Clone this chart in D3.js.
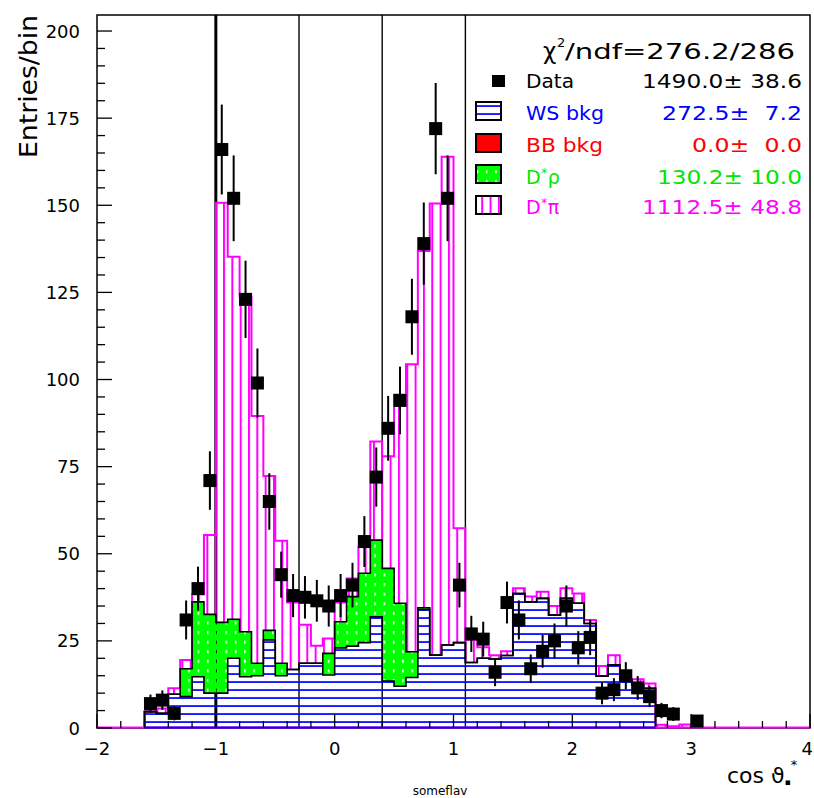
<!DOCTYPE html>
<html><head><meta charset="utf-8">
<script src="https://cdn.jsdelivr.net/npm/d3@7"></script>
<style>
html,body{margin:0;padding:0;background:#fff;}
svg{display:block;}
text{font-family:"DejaVu Sans",sans-serif;}
</style></head><body>
<svg id="c" width="814" height="798"></svg>
<script>
// ---------- DATA ----------
const binEdges = [-1.6,-1.5,-1.4,-1.3,-1.2,-1.1,-1.0,-0.9,-0.8,-0.7,-0.6,-0.5,-0.4,-0.3,-0.2,-0.1,0.0,
  0.1,0.2,0.3,0.4,0.5,0.6,0.7,0.8,0.9,1.0,1.1,1.2,1.3,1.4,1.5,1.6,1.7,1.8,1.9,2.0,2.1,2.2,2.3,2.4,2.5,2.6,2.7,2.8,2.9,3.0];
// WS background (bottom of stack)
const wsBkg = [4.7,4.2,9.7,9.0,14.7,10.0,10.0,20.0,14.7,15.0,25.3,15.0,16.8,18.6,18.6,15.2,23.0,23.5,24.5,31.9,
  13.5,12.0,14.5,34.0,20.9,23.8,24.5,18.8,20.0,19.8,20.8,38.6,36.2,37.2,32.4,37.2,35.8,30.0,14.9,18.1,13.8,12.3,11.4,0,0,0];
// BB background
const bbBkg = [0,0,0,0,0,0,0,0,0,0,0,0,0,0,0,0,0,0,0,0,0,0,0,0,0,0,0,0,0,0,0,0,0,0,0,0,0,0,0,0,0,0,0,0,0,0];
// D*rho component
const dstRho = [0,0,0,8.0,21.5,22.6,20.3,11.2,12.9,3.6,2.7,3.6,0,0,0,6.2,7.5,14.2,19.9,22.0,
  32.3,23.8,7.4,0.5,0,0,0,0,0,0,0,0,0,0,0,0,0,0,0,0,0,0,0,0,0,0];
// D*pi component
const dstPi = [0,1.4,1.7,2.5,2.2,22.8,120.4,104.0,96.2,70.9,44.3,35.1,19.2,11.0,5.0,4.3,5.5,5.2,7.6,28.3,
  32.2,59.8,82.5,102.4,129.6,140.1,32.8,6.5,3.2,1.1,1.2,1.5,1.5,1.9,2.6,2.9,2.8,1.0,2.9,2.8,0.3,1.7,1.4,0.9,0.5,1.0];
// Data points
const dataX = [-1.55,-1.45,-1.35,-1.25,-1.15,-1.05,-0.95,-0.85,-0.75,-0.65,-0.55,-0.45,-0.35,-0.25,-0.15,-0.05,
  0.05,0.15,0.25,0.35,0.45,0.55,0.65,0.75,0.85,0.95,1.05,1.15,1.25,1.35,1.45,1.55,1.65,1.75,1.85,1.95,
  2.05,2.15,2.25,2.35,2.45,2.55,2.65,2.75,2.85,3.05];
const dataY = [7,8,4.2,31,40,71,166,152,123,99,65,44,38,37.5,36.5,35,38,41,53.5,72,86,94,118,139,172,152,
  41,27,25.5,16,36,31,17,22,25,35,23,26,10,11,15,11.5,9,5,4,2];
const dataErr = [2.6,2.8,2.0,5.6,6.3,8.4,12.9,12.3,11.1,9.9,8.1,6.6,6.2,6.1,6.0,5.9,6.2,6.4,7.3,8.5,9.3,9.7,10.9,11.8,13.1,12.3,
  6.4,5.2,5.0,4.0,6.0,5.6,4.1,4.7,5.0,5.9,4.8,5.1,3.2,3.3,3.9,3.4,3.0,2.2,2.0,1.4];
const refLines = [-1.0,-0.3,0.4,1.1];
const xTicks = [-2,-1,0,1,2,3,4];
const yTicks = [0,25,50,75,100,125,150,175,200];
const legendNames = [["Data"],["WS bkg"],["BB bkg"],["D","*","ρ"],["D","*","π"]];
const legendValues = ["1490.0± 38.6","272.5±  7.2","0.0±  0.0","130.2± 10.0","1112.5± 48.8"];
const chi2Text = "/ndf=276.2/286";

// ---------- SCALES ----------
const svg = d3.select("#c");
const x = d3.scaleLinear().domain([-2,4]).range([97,810]);
const y = d3.scaleLinear().domain([0,204.6]).range([728,15]);
const MAG="#ff00ff", BLUE="#0000ff", GREEN="#00ff00", RED="#ff0000";

svg.append("rect").attr("width",814).attr("height",798).attr("fill","#fff");

// ---------- PATTERNS ----------
const defs = svg.append("defs");
const pb = defs.append("pattern").attr("id","blueHatch").attr("patternUnits","userSpaceOnUse")
  .attr("x",0).attr("y",0).attr("width",8).attr("height",8);
pb.append("rect").attr("x",0).attr("y",1.2).attr("width",8).attr("height",1.7).attr("fill",BLUE);
const pm = defs.append("pattern").attr("id","magHatch").attr("patternUnits","userSpaceOnUse")
  .attr("x",214.7).attr("y",0).attr("width",8.33).attr("height",10);
pm.append("rect").attr("x",0).attr("y",0).attr("width",2).attr("height",10).attr("fill",MAG);
const pg = defs.append("pattern").attr("id","greenDots").attr("patternUnits","userSpaceOnUse")
  .attr("x",197.6).attr("y",611.8).attr("width",9.3).attr("height",9.6);
pg.append("path").attr("fill-rule","evenodd").attr("fill",GREEN)
  .attr("d","M0,0H9.3V9.6H0Z M0,0H1.5V3H0Z");

// ---------- STACK ----------
const rows = wsBkg.map((w,i)=>({ws:w, bb:bbBkg[i], rho:dstRho[i], pi:dstPi[i]}));
const stack = d3.stack().keys(["ws","bb","rho","pi"])(rows);
const S = {}; stack.forEach(s=>S[s.key]=s);
const nb = wsBkg.length;

function bandPts(ser){
  const pts = ser.map((d,i)=>({e:binEdges[i], lo:d[0], hi:d[1]}));
  pts.push({e:binEdges[nb], lo:ser[nb-1][0], hi:ser[nb-1][1]});
  return pts;
}
const area = d3.area().x(d=>x(d.e)).y0(d=>y(d.lo)).y1(d=>y(d.hi)).curve(d3.curveStepAfter);
function outlinePts(vals, last){
  const pts=[{e:binEdges[0],v:0}];
  for(let i=0;i<=last;i++) pts.push({e:binEdges[i],v:vals[i]});
  pts.push({e:binEdges[last+1],v:vals[last]});
  pts.push({e:binEdges[last+1],v:0});
  return pts;
}
const line = d3.line().x(d=>x(d.e)).y(d=>y(d.v)).curve(d3.curveStepAfter);

// reference vertical lines (behind)
svg.append("g").selectAll("line").data(refLines).join("line")
  .attr("x1",d=>x(d)).attr("x2",d=>x(d)).attr("y1",y(0)).attr("y2",15)
  .attr("stroke","#000").attr("stroke-width",(d,i)=>i===0?3:1.4);

// bands
svg.append("path").attr("d",area(bandPts(S.pi))).attr("fill","url(#magHatch)");
svg.append("path").attr("d",area(bandPts(S.rho))).attr("fill","url(#greenDots)");
svg.append("path").attr("d",area(bandPts(S.ws))).attr("fill","url(#blueHatch)");

// outlines
const totalTop = S.pi.map(d=>d[1]);
const greenTop = S.rho.map(d=>d[1]);
const wsTop = S.ws.map(d=>d[1]);
const wsLast = 42;
svg.append("path").attr("d",line(outlinePts(totalTop,nb-1))).attr("fill","none").attr("stroke",MAG).attr("stroke-width",2);
svg.append("path").attr("d",line(outlinePts(greenTop,wsLast))).attr("fill","none").attr("stroke","#000").attr("stroke-width",1.6);
svg.append("path").attr("d",line(outlinePts(wsTop,wsLast))).attr("fill","none").attr("stroke","#000").attr("stroke-width",1.6);

// frame
svg.append("rect").attr("x",97).attr("y",15).attr("width",713).attr("height",713)
  .attr("fill","none").attr("stroke","#000").attr("stroke-width",1.5);
// baselines
svg.append("line").attr("x1",x(-2)).attr("x2",x(4)).attr("y1",y(0)-0.5).attr("y2",y(0)-0.5).attr("stroke",MAG).attr("stroke-width",2);
svg.append("line").attr("x1",x(binEdges[0])).attr("x2",x(binEdges[wsLast+1])).attr("y1",y(0)-0.5).attr("y2",y(0)-0.5).attr("stroke",BLUE).attr("stroke-width",2);

// ticks
const gt = svg.append("g").attr("stroke","#000").attr("stroke-width",1.3);
d3.range(-2,4.001,0.2).forEach(v=>{
  const major = Math.abs(v-Math.round(v))<1e-6;
  gt.append("line").attr("x1",x(v)).attr("x2",x(v)).attr("y1",728).attr("y2",728-(major?14:7));
});
d3.range(0,204,5).forEach(v=>{
  const major = v%25===0;
  gt.append("line").attr("x1",97).attr("x2",97+(major?15:8)).attr("y1",y(v)).attr("y2",y(v));
});

// data points
const gd = svg.append("g");
gd.selectAll("line").data(dataX).join("line")
  .attr("x1",d=>x(d)).attr("x2",d=>x(d))
  .attr("y1",(d,i)=>y(dataY[i]-dataErr[i])).attr("y2",(d,i)=>y(dataY[i]+dataErr[i]))
  .attr("stroke","#000").attr("stroke-width",2);
gd.selectAll("rect").data(dataX).join("rect")
  .attr("x",d=>x(d)-6.5).attr("y",(d,i)=>y(dataY[i])-6.5).attr("width",13).attr("height",13).attr("fill","#000");

// axis labels
svg.append("g").selectAll("text").data(yTicks).join("text")
  .attr("x",80).attr("y",d=>y(d)+6.5).attr("text-anchor","end").attr("font-size",18).text(d=>d);
svg.append("g").selectAll("text").data(xTicks).join("text")
  .attr("x",d=>d===4?813:x(d)).attr("y",755).attr("text-anchor",d=>d===4?"end":"middle").attr("font-size",18)
  .text(d=>d<0?"\u2212"+Math.abs(d):d);

svg.append("text").attr("transform","translate(37,15) rotate(-90)").attr("text-anchor","end")
  .attr("font-size",25).attr("textLength",143).attr("lengthAdjust","spacingAndGlyphs").text("Entries/bin");

const xt = svg.append("text").attr("x",727).attr("y",783).attr("font-size",22);
xt.append("tspan").text("cos ϑ");
xt.append("tspan").attr("font-size",9).attr("dy",2).text("▪");
xt.append("tspan").attr("font-size",13).attr("dy",-16).text("*");

svg.append("text").attr("x",440).attr("y",795).attr("text-anchor","middle").attr("font-size",12).text("someflav");

// chi2
svg.append("text").attr("x",543).attr("y",58.5).attr("font-size",23).text("χ");
svg.append("text").attr("x",557).attr("y",47).attr("font-size",13).text("2");
svg.append("text").attr("x",565).attr("y",58.5).attr("font-size",22).attr("textLength",230)
  .attr("lengthAdjust","spacingAndGlyphs").text(chi2Text);

// legend
const legColors = ["#000",BLUE,RED,"#00e600",MAG];
const legBase = [88,120,152,183.5,214];
const legNameW = [48,78,77,33,35];
const legValW = [160,140,110,145,160];
const lg = svg.append("g");
legendNames.forEach((n,i)=>{
  const t = lg.append("text").attr("x",526).attr("y",legBase[i]).attr("font-size",19).attr("fill",legColors[i]);
  if(n.length===1){
    t.attr("textLength",legNameW[i]).attr("lengthAdjust","spacingAndGlyphs").text(n[0]);
  } else {
    t.append("tspan").text(n[0]);
    t.append("tspan").attr("font-size",12).attr("dy",-7).attr("dx",0.5).text(n[1]);
    t.append("tspan").attr("dy",7).attr("dx",0.5).text(n[2]);
  }
  lg.append("text").attr("x",802).attr("y",legBase[i]).attr("font-size",19).attr("fill",legColors[i])
    .attr("text-anchor","end").style("white-space","pre")
    .attr("textLength",legValW[i]).attr("lengthAdjust","spacingAndGlyphs").text(legendValues[i]);
});
lg.append("rect").attr("x",492).attr("y",75).attr("width",13).attr("height",12).attr("fill","#000");
const boxFills = ["url(#blueHatch)",RED,"url(#greenDots)","url(#magHatch)"];
const boxY = [102,134,165,196];
boxFills.forEach((f,i)=>{
  lg.append("rect").attr("x",476).attr("y",boxY[i]).attr("width",25).attr("height",18).attr("fill","#fff");
  lg.append("rect").attr("x",476).attr("y",boxY[i]).attr("width",25).attr("height",18)
    .attr("fill",f).attr("stroke","#000").attr("stroke-width",2);
});
</script>
</body></html>
